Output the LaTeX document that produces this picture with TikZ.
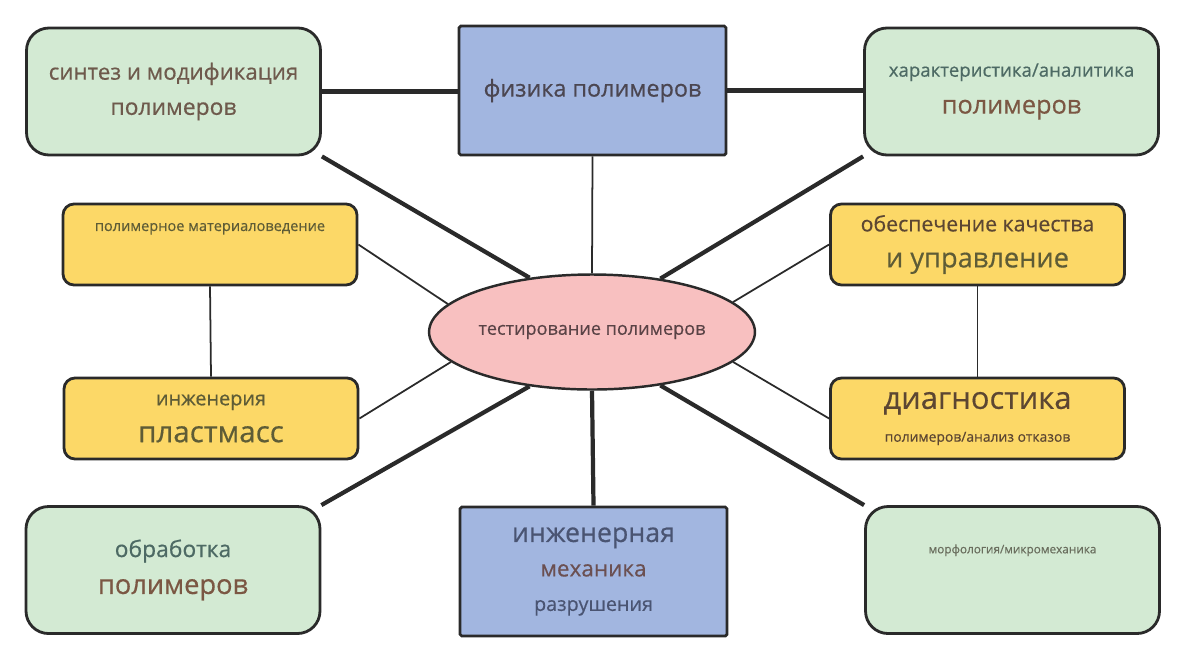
\documentclass[tikz,border=0pt]{standalone}
\usepackage{fontspec}
\setmainfont{Open Sans}[FakeBold=0.5]
\usetikzlibrary{shapes.geometric}

\definecolor{edgecol}{HTML}{2A2A2A}
\definecolor{boxgreen}{HTML}{D3EAD3}
\definecolor{boxblue}{HTML}{A2B6E0}
\definecolor{boxyellow}{HTML}{FCD867}
\definecolor{hubpink}{HTML}{F8C0C0}
\definecolor{txtbrown}{HTML}{6E5A4C}
\definecolor{txtslate}{HTML}{4B4651}
\definecolor{txtteal}{HTML}{4D6A64}
\definecolor{txtrust}{HTML}{7B5743}
\definecolor{txtolive}{HTML}{5E5C36}
\definecolor{txtumber}{HTML}{5C4632}
\definecolor{txtnavy}{HTML}{4A5472}
\definecolor{txtmauve}{HTML}{6B5052}
\definecolor{txtmoss}{HTML}{6A6E5E}
\definecolor{txtrose}{HTML}{5A4346}

\tikzset{
  greenbox/.style={draw=edgecol, line width=1.6pt, fill=boxgreen, rounded corners=0.45cm,
    minimum width=5.88cm, minimum height=2.54cm, align=center, inner sep=2pt,
    font=\fontsize{12}{20}\selectfont},
  bluebox/.style={draw=edgecol, line width=1.6pt, fill=boxblue, rounded corners=1pt,
    minimum width=5.34cm, minimum height=2.58cm, align=center, inner sep=2pt,
    font=\fontsize{12}{20}\selectfont},
  yellowbox/.style={draw=edgecol, line width=1.6pt, fill=boxyellow, rounded corners=0.22cm,
    minimum width=5.88cm, minimum height=1.62cm, align=center, inner sep=2pt,
    font=\fontsize{12}{20.5}\selectfont},
  hub/.style={ellipse, draw=edgecol, line width=1.4pt, fill=hubpink,
    minimum width=6.36cm, minimum height=2.3cm, inner sep=1pt},
  heavy/.style={draw=edgecol, line width=2.4pt},
  light/.style={draw=edgecol, line width=1pt},
}
\newcommand{\tline}[3]{{\fontsize{#1}{#1}\selectfont\color{#2}#3}}

\begin{document}
\begin{tikzpicture}
  \useasboundingbox (0,0) rectangle (24,-13.24);

  %% ---- hub ----
  \node[hub] (ell) at (11.84,-6.64) {\tline{10.3}{txtrose}{тестирование полимеров}};

  %% ---- top row ----
  \node[greenbox] (synth) at (3.47,-1.83)
    {\tline{12.7}{txtbrown}{синтез и модификация}\\\tline{13}{txtbrown}{полимеров}};
  \node[bluebox] (phys) at (11.85,-1.81) {\tline{13.3}{txtslate}{физика полимеров}};
  \node[greenbox, font=\fontsize{12}{21}\selectfont] (charact) at (20.23,-1.83)
    {\tline{10.6}{txtteal}{характеристика/аналитика}\\\tline{14.4}{txtrust}{полимеров}};

  %% ---- side pairs ----
  \node[yellowbox, text height=6pt, text depth=21.4pt] (matsci) at (4.20,-4.89)
    {\tline{8.3}{txtolive}{полимерное материаловедение}};
  \node[yellowbox, font=\fontsize{12}{21}\selectfont] (plast) at (4.22,-8.37)
    {\tline{11.3}{txtolive}{инженерия}\\\tline{16.8}{txtolive}{пластмасс}};
  \node[yellowbox] (quality) at (19.55,-4.89)
    {\tline{12.1}{txtumber}{обеспечение качества}\\\tline{15.5}{txtolive}{и управление}};
  \node[yellowbox, font=\fontsize{12}{18.7}\selectfont] (diag) at (19.55,-8.37)
    {\tline{17.6}{txtumber}{диагностика}\\\tline{7.9}{txtumber}{полимеров/анализ отказов}};

  %% ---- bottom row ----
  \node[greenbox, font=\fontsize{12}{21}\selectfont] (proc) at (3.46,-11.40)
    {\tline{13}{txtteal}{обработка}\\\tline{15.5}{txtrust}{полимеров}};
  \node[bluebox, font=\fontsize{12}{19.6}\selectfont] (fract) at (11.87,-11.43)
    {\tline{15.2}{txtnavy}{инженерная}\\\tline{12.8}{txtmauve}{механика}\\\tline{11.2}{txtnavy}{разрушения}};
  \node[greenbox, text height=5pt, text depth=24pt] (morph) at (20.25,-11.40)
    {\tline{6.7}{txtmoss}{морфология/микромеханика}};

  %% ---- connectors ----
  \draw[heavy] (synth.east) -- (synth.east -| phys.west);
  \draw[heavy] (phys.east) -- (phys.east -| charact.west);
  \draw[light] (phys.south) -- (ell.north);
  \draw[heavy] (ell.south) -- (fract.north);
  \draw[heavy] (synth.south east) -- (ell.139);
  \draw[heavy] (charact.south west) -- (ell.38);
  \draw[heavy] (proc.north east) -- (ell.221);
  \draw[heavy] (morph.north west) -- (ell.322);
  \draw[light] (matsci.east) -- (ell.169);
  \draw[light] (plast.east) -- (ell.192);
  \draw[light] (quality.west) -- (ell.12);
  \draw[light] (diag.west) -- (ell.348);
  \draw[light] (matsci.south) -- (plast.north);
  \draw[light] (quality.south) -- (diag.north);

\end{tikzpicture}
\end{document}
